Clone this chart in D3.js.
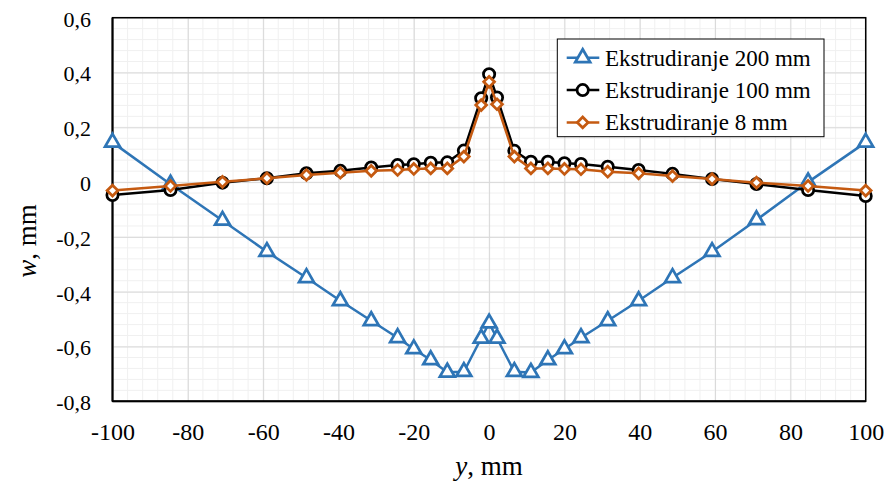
<!DOCTYPE html>
<html><head><meta charset="utf-8">
<script src="https://cdn.jsdelivr.net/npm/d3@7/dist/d3.min.js"></script>
<style>body{margin:0;background:#fff}svg{display:block}</style>
</head><body>
<svg id="c" width="887" height="484"></svg>
<script>
const yPos = [-100,-84.6,-70.8,-59,-48.5,-39.5,-31.3,-24.3,-20,-15.5,-11.1,-6.7,-2.1,0,2.1,6.7,11.1,15.6,20,24.4,31.5,39.7,48.7,59.2,71,84.7,100];
const ext200 = [0.145,-0.008,-0.14,-0.254,-0.349,-0.433,-0.506,-0.568,-0.609,-0.649,-0.694,-0.692,-0.570,-0.515,-0.570,-0.692,-0.695,-0.649,-0.609,-0.568,-0.506,-0.433,-0.349,-0.254,-0.138,0.0,0.145];
const ext100 = [-0.047,-0.029,-0.002,0.014,0.032,0.041,0.053,0.062,0.065,0.071,0.072,0.115,0.306,0.394,0.309,0.114,0.074,0.074,0.069,0.066,0.056,0.044,0.030,0.011,-0.007,-0.029,-0.051];
const ext8 = [-0.031,-0.014,0.001,0.014,0.026,0.034,0.041,0.044,0.048,0.050,0.050,0.093,0.281,0.366,0.284,0.093,0.050,0.050,0.048,0.047,0.038,0.032,0.022,0.011,-0.002,-0.014,-0.031];
const seriesNames = ["Ekstrudiranje 200 mm","Ekstrudiranje 100 mm","Ekstrudiranje 8 mm"];
const xTicks = [-100,-80,-60,-40,-20,0,20,40,60,80,100];
const yTicks = [-0.8,-0.6,-0.4,-0.2,0,0.2,0.4,0.6];

const svg = d3.select("#c");
const L=112.5, R=865.7, T=17.7, B=401.3;
const x = d3.scaleLinear().domain([-100,100]).range([L,R]);
const y = d3.scaleLinear().domain([-0.8,0.6]).range([B,T]);
const font = "'Liberation Serif', serif";
const fmt = v => (Math.abs(v)<1e-9 ? "0" : d3.format(".1f")(v).replace(".",",").replace("−","-"));

// minor grid
const xMinor = d3.range(-100,100.1,4), yMinor = d3.range(-0.8,0.6001,0.04);
svg.append("g").selectAll("line").data(xMinor).join("line")
  .attr("x1",d=>x(d)).attr("x2",d=>x(d)).attr("y1",T).attr("y2",B)
  .attr("stroke","#f0f0f0").attr("stroke-width",1);
svg.append("g").selectAll("line").data(yMinor).join("line")
  .attr("y1",d=>y(d)).attr("y2",d=>y(d)).attr("x1",L).attr("x2",R)
  .attr("stroke","#f0f0f0").attr("stroke-width",1);
// major grid
svg.append("g").call(d3.axisBottom(x).tickValues(xTicks).tickSize(-(B-T)).tickFormat(""))
  .attr("transform",`translate(0,${B})`)
  .call(g=>{g.select(".domain").remove();g.selectAll("line").attr("stroke","#d9d9d9");});
svg.append("g").call(d3.axisLeft(y).tickValues(yTicks).tickSize(-(R-L)).tickFormat(""))
  .attr("transform",`translate(${L},0)`)
  .call(g=>{g.select(".domain").remove();g.selectAll("line").attr("stroke","#d9d9d9");});

// frame
svg.append("rect").attr("x",L).attr("y",T).attr("width",R-L).attr("height",B-T)
  .attr("fill","none").attr("stroke","#000").attr("stroke-width",1.5);
svg.append("line").attr("x1",L).attr("x2",L).attr("y1",T).attr("y2",B).attr("stroke","#000").attr("stroke-width",2);
svg.append("line").attr("x1",L).attr("x2",R).attr("y1",B).attr("y2",B).attr("stroke","#000").attr("stroke-width",2);

// tick labels
const xa = svg.append("g").attr("transform",`translate(0,${B})`)
  .call(d3.axisBottom(x).tickValues(xTicks).tickSize(0).tickPadding(0).tickFormat(d=>String(d)));
xa.select(".domain").remove();
xa.selectAll("text").attr("y",38.5).attr("dy",0).attr("font-family",font).attr("font-size",24).attr("fill","#000");
const ya = svg.append("g").attr("transform",`translate(91,0)`)
  .call(d3.axisLeft(y).tickValues(yTicks).tickSize(0).tickPadding(0).tickFormat(fmt));
ya.select(".domain").remove();
ya.selectAll("text").attr("x",0).attr("dy","0.38em").attr("font-family",font).attr("font-size",22).attr("fill","#000");

// axis titles
svg.append("text").attr("x",489).attr("y",475).attr("text-anchor","middle")
  .attr("font-family",font).attr("font-size",27)
  .call(t=>{t.append("tspan").attr("font-style","italic").text("y");t.append("tspan").text(", mm");});
svg.append("text").attr("transform","translate(36,241) rotate(-90)").attr("text-anchor","middle")
  .attr("font-family",font).attr("font-size",27)
  .call(t=>{t.append("tspan").attr("font-style","italic").text("w");t.append("tspan").text(", mm");});

const series = [
  {name:seriesNames[0], vals:ext200, color:"#2e75b6", sym:d3.symbolTriangle, size:95, rot:0},
  {name:seriesNames[1], vals:ext100, color:"#000000", sym:d3.symbolCircle, size:100, rot:0},
  {name:seriesNames[2], vals:ext8, color:"#c55a11", sym:d3.symbolSquare, size:58, rot:45}
];
const line = d3.line().x(d=>x(d[0])).y(d=>y(d[1]));
series.forEach(s=>{
  const pts = yPos.map((v,i)=>[v,s.vals[i]]);
  const g = svg.append("g");
  g.append("path").datum(pts).attr("d",line).attr("fill","none").attr("stroke",s.color).attr("stroke-width",2.5);
  g.selectAll("path.m").data(pts).join("path").attr("class","m")
    .attr("transform",d=>`translate(${x(d[0])},${y(d[1])}) rotate(${s.rot})`)
    .attr("d",d3.symbol().type(s.sym).size(s.size))
    .attr("fill","#fff").attr("stroke",s.color).attr("stroke-width",2.75);
});

// legend
const lg = svg.append("g");
lg.append("rect").attr("x",557.3).attr("y",39).attr("width",266.7).attr("height",97.7)
  .attr("fill","#fff").attr("stroke","#000").attr("stroke-width",1);
series.forEach((s,i)=>{
  const cy = 57.8 + i*32.3;
  lg.append("line").attr("x1",566.7).attr("x2",599.3).attr("y1",cy).attr("y2",cy).attr("stroke",s.color).attr("stroke-width",2.5);
  lg.append("path").attr("transform",`translate(582.7,${cy}) rotate(${s.rot})`).attr("d",d3.symbol().type(s.sym).size(s.size))
    .attr("fill","#fff").attr("stroke",s.color).attr("stroke-width",2.75);
  lg.append("text").attr("x",605).attr("y",cy).attr("dy","0.35em").attr("font-family",font).attr("font-size",23).text(s.name);
});
</script>
</body></html>
